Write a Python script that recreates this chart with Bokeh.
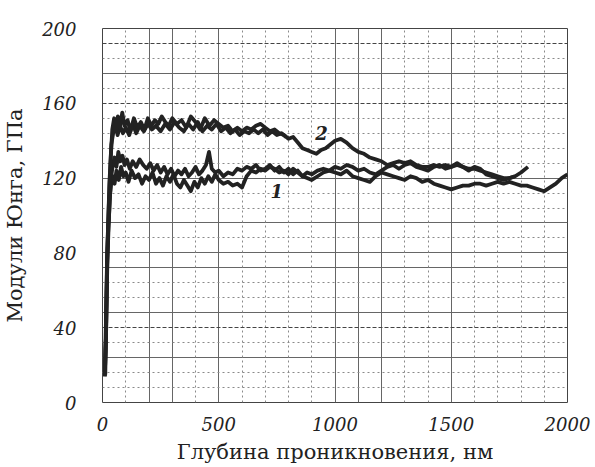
from bokeh.plotting import figure
from bokeh.models import FixedTicker, Grid, Range1d
from bokeh.core.properties import value
from bokeh.embed import file_html
from bokeh.resources import INLINE

# ---- data ----
x2 = [10,15,20,25,30,36,42,50,58,66,
      75,85,95,108,120,135,150,165,180,195,
      210,225,240,255,270,285,300,320,340,360,
      380,400,420,440,460,480,500,520,540,560,
      580,600,620,640,660,680,700,720,740,760,
      780,800,820,840,860,880,900,920,940,960,
      980,1000,1025,1050,1075,1100,1125,1150,1175,1200,
      1225,1250,1275,1300,1325,1350,1375,1400,1425,1450,
      1475,1500,1525,1550,1575,1600,1625,1650,1675,1700,
      1725,1750,1775]
y2 = [15,45,80,98,115,132,146,152,145,153,
      147,155,148,151,145,152,147,150,146,152,
      148,151,149,153,150,148,152,149,151,147,
      153,150,146,152,148,151,149,147,148,145,
      147,145,147,146,148,149,147,145,146,144,
      143,141,142,139,136,135,134,133,135,136,
      138,140,141,139,136,134,133,131,130,129,
      127,128,129,128,129,127,126,126,127,126,
      127,126,127,126,125,125,124,123,122,121,
      120,120,121]

x2b = [12,18,24,30,38,46,55,65,75,88,
       100,115,130,145,160,178,195,212,230,250,
       270,290,310,330,350,370,390,410,430,450,
       470,490,510,530,550,570,590,610,630,650,
       670,690,710,730,750,770,790]
y2b = [15,60,95,118,138,144,149,143,148,144,
       147,143,149,144,148,145,149,146,148,145,
       149,146,150,147,145,149,146,150,145,148,
       146,149,145,147,144,146,143,145,144,146,
       144,146,143,145,143,144,142]

xa = [10,15,19,23,28,33,38,45,52,60,
      70,80,90,100,112,125,140,155,170,185,
      200,215,230,245,260,275,290,305,320,335,
      350,365,380,395,410,425,440,455,470,485,
      500,520,540,560,580,600,620,640,660,680,
      700,720,740,760,780,800,820,840,860,880,
      900,925,950,975,1000,1025,1050,1075,1100,1125,
      1150,1175,1200,1225,1250,1275,1300,1325,1350,1375,
      1400,1425,1450,1475,1500,1525,1550,1575,1600,1625,
      1650,1675,1700,1725,1750,1775,1800,1825,1850,1875,
      1900,1925,1950,1975,2000]
ya = [14,35,70,88,100,112,118,121,117,124,
      119,126,121,123,118,124,120,122,117,121,
      119,123,117,120,116,121,118,122,117,115,
      119,116,113,118,115,120,117,121,118,122,
      119,117,118,116,117,115,121,124,123,125,
      124,126,125,123,124,122,125,123,121,120,
      119,121,123,124,123,122,124,121,120,119,
      118,121,123,122,121,120,119,121,120,118,
      119,117,116,115,114,115,116,116,117,117,
      116,117,118,117,118,117,116,116,115,114,
      113,115,117,120,122]

xb = [10,16,21,26,31,37,44,52,60,68,
      77,86,95,105,117,130,145,160,175,190,
      205,220,235,250,265,280,295,310,325,340,
      355,370,385,400,415,430,445,458,470,485,
      500,520,540,560,580,600,620,640,660,680,
      700,720,740,760,780,800,820,840,860,880,
      900,925,950,975,1000,1025,1050,1075,1100,1125,
      1150,1175,1200,1225,1250,1275,1300,1325,1350,1375,
      1400,1425,1450,1475,1500,1525,1550,1575,1600,1625,
      1650,1675,1700,1725,1750,1775,1800,1830]
yb = [14,40,76,93,108,120,127,131,126,134,
      129,132,127,130,125,129,126,130,127,125,
      128,124,127,123,126,122,125,121,124,122,
      125,121,123,126,122,124,127,134,125,123,
      124,121,123,122,125,124,126,125,127,124,
      125,127,124,126,123,125,122,124,121,123,
      122,124,125,124,126,125,127,126,124,125,
      123,122,124,126,127,125,127,128,126,125,
      124,126,127,125,126,128,126,124,126,125,
      122,121,120,119,120,121,123,126]

x_ticks = [0, 500, 1000, 1500, 2000]
y_ticks = [0, 40, 80, 120, 160, 200]
curve_labels = ["1", "2"]
label_x = [750, 942]
label_y = [113, 144]

ink = "#222222"

p = figure(width=595, height=466, output_backend="svg", toolbar_location=None,
           x_range=Range1d(0, 2000), y_range=Range1d(0, 200),
           min_border_left=100, min_border_right=28, min_border_top=28, min_border_bottom=64)
p.background_fill_color = "white"
p.border_fill_color = "white"
p.outline_line_color = "#444444"
p.outline_line_width = 1

# grids: paper-like
p.xgrid.ticker = FixedTicker(ticks=[0, 200, 300, 500, 1000, 1100, 1200, 1500, 2000])
p.xgrid.grid_line_color = "#666666"
p.xgrid.grid_line_width = 1
p.ygrid.ticker = FixedTicker(ticks=[0, 24, 48, 72, 80, 96, 120, 176, 200])
p.ygrid.grid_line_color = "#666666"
p.ygrid.grid_line_width = 1

dot_x = [v for v in range(100, 2000, 100) if v not in (200, 300, 500, 1000, 1100, 1200, 1500)]
gx = Grid(dimension=0, ticker=FixedTicker(ticks=dot_x), grid_line_color="#8a8a8a",
          grid_line_dash="2 3", grid_line_width=1)
dot_y = [v for v in range(8, 200, 8) if v not in (24, 48, 72, 80, 96, 120, 176, 40, 160, 192)]
gy = Grid(dimension=1, ticker=FixedTicker(ticks=dot_y), grid_line_color="#8a8a8a",
          grid_line_dash="2 3", grid_line_width=1)
gyd = Grid(dimension=1, ticker=FixedTicker(ticks=[40, 160, 192]), grid_line_color="#444444",
           grid_line_dash="4 2", grid_line_width=1.2)
p.add_layout(gx)
p.add_layout(gy)
p.add_layout(gyd)

for xs, ys in ((xa, ya), (xb, yb), (x2b, y2b), (x2, y2)):
    p.line(xs, ys, line_color=ink, line_width=3.8, line_join="round")

p.text(x=label_x, y=label_y, text=curve_labels, text_font=value("DejaVu Serif"),
       text_font_style="bold italic", text_font_size="18px", text_color=ink,
       text_align="center", text_baseline="middle")

# axes
p.xaxis.ticker = FixedTicker(ticks=x_ticks)
p.yaxis.ticker = FixedTicker(ticks=y_ticks)
for ax in (p.xaxis[0], p.yaxis[0]):
    ax.axis_line_color = None
    ax.major_tick_line_color = None
    ax.minor_tick_line_color = None
    ax.major_label_text_font = "DejaVu Serif"
    ax.major_label_text_font_style = "italic"
    ax.major_label_text_font_size = "18px"
    ax.major_label_text_color = ink
    ax.axis_label_text_font = "DejaVu Serif"
    ax.axis_label_text_font_style = "normal"
    ax.axis_label_text_font_size = "21px"
    ax.axis_label_text_color = ink

p.xaxis.axis_label = "Глубина проникновения, нм"
p.yaxis.axis_label = "Модули Юнга, ГПа"
p.xaxis.major_label_standoff = 8
p.yaxis.major_label_standoff = 20
p.xaxis.axis_label_standoff = 6
p.yaxis.axis_label_standoff = 12

open("out.html", "w").write(file_html(p, INLINE))
